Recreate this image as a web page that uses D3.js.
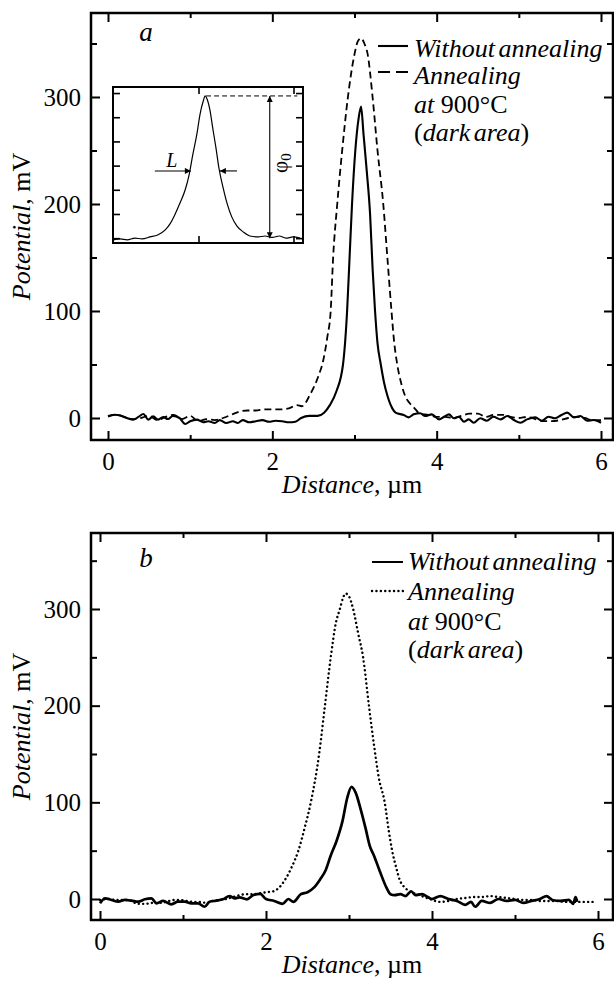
<!DOCTYPE html>
<html>
<head>
<meta charset="utf-8">
<script src="https://cdn.jsdelivr.net/npm/d3@7"></script>
<style>
  body { margin: 0; background: #fff; }
  svg { display: block; }
  svg text { font-family: 'Liberation Serif', 'DejaVu Serif', serif; }
</style>
</head>
<body>
<div id="chart"></div>
<script>
// ---- data ----
const xTicksMajor = [0, 2, 4, 6];
const xTicksMinor = [1, 3, 5];
const yTicksMajor = [0, 100, 200, 300];
const yTicksMinor = [50, 150, 250, 350];

// panel a: [distance um, potential mV]
const aSolid = [[0,1.5],[0.08,3],[0.16,2],[0.23,0],[0.31,-1.5],[0.37,1],[0.43,3.7],[0.49,-1.5],[0.55,1.5],[0.61,-1.5],[0.67,1],[0.73,-1],[0.79,2],[0.87,0],[0.94,-5.6],[1.0,-3],[1.08,-1.5],[1.16,-4],[1.22,-3],[1.3,-4.7],[1.36,-2],[1.44,-4.7],[1.52,-3],[1.58,-4.7],[1.64,-2],[1.72,-4],[1.8,-3],[1.88,-2],[1.96,-3.5],[2.04,-2.5],[2.12,-3],[2.2,-4],[2.28,-3.5],[2.35,0],[2.45,2],[2.55,2],[2.63,5],[2.7,12],[2.78,25],[2.86,50],[2.91,100],[2.94,150],[2.97,200],[3.01,250],[3.05,280],[3.08,291],[3.11,265],[3.15,230],[3.19,190],[3.22,140],[3.25,100],[3.28,70],[3.32,50],[3.36,33],[3.4,21],[3.46,9],[3.5,5],[3.6,2.8],[3.66,0.6],[3.72,3.4],[3.8,4.4],[3.86,1.9],[3.94,3.4],[4.03,-1.3],[4.09,1.2],[4.15,3.4],[4.21,-0.3],[4.27,1.2],[4.33,-3.4],[4.39,-1.3],[4.45,-4.4],[4.53,-0.3],[4.61,-2.5],[4.69,1.2],[4.78,-1.3],[4.86,1.9],[4.94,-1.9],[5.02,-4.4],[5.1,-1.3],[5.2,0.6],[5.28,-2.5],[5.36,1.2],[5.44,-0.3],[5.52,2.8],[5.59,5],[5.67,0.6],[5.75,1.9],[5.83,-2.5],[5.91,-1.9],[6.0,-4.4]];
const aDashed = [[0,2],[0.1,3],[0.2,1],[0.3,-1],[0.4,0],[0.5,2],[0.6,-2],[0.7,1],[0.8,3],[0.9,-1],[1.0,2],[1.1,-3],[1.2,-1],[1.3,-2],[1.4,0],[1.5,3],[1.6,6],[1.7,7],[1.8,7],[1.9,8],[2.0,8],[2.1,8],[2.2,9],[2.3,12],[2.36,11],[2.46,22],[2.56,39],[2.62,54],[2.67,76],[2.71,100],[2.74,150],[2.79,200],[2.85,250],[2.92,300],[3.0,340],[3.04,352],[3.08,355],[3.12,350],[3.16,340],[3.22,300],[3.28,250],[3.35,200],[3.4,150],[3.45,100],[3.48,73],[3.52,50],[3.57,32],[3.62,20],[3.67,14],[3.72,10],[3.8,4],[3.9,3],[4.0,1],[4.1,1],[4.2,0],[4.3,2],[4.4,4],[4.5,4],[4.6,1],[4.7,3],[4.8,3],[4.9,1],[5.0,0],[5.1,1],[5.2,-1],[5.3,-3],[5.4,-3],[5.5,-2],[5.6,0],[5.7,1],[5.8,0],[5.9,-2],[6.0,-2]];

// panel b
const bSolid = [[0,-4.5],[0.06,0.7],[0.14,-1],[0.22,-2.8],[0.3,-1],[0.38,-1.7],[0.46,-2.8],[0.54,-0.3],[0.62,0.7],[0.68,-4.5],[0.76,-2],[0.86,-5.5],[0.94,-2.8],[1.02,-2.8],[1.1,-4.5],[1.18,-4.5],[1.26,-8],[1.32,-2.8],[1.4,-1.7],[1.48,-0.3],[1.56,3.1],[1.62,0.7],[1.68,1.7],[1.77,-0.3],[1.85,4.1],[1.93,5.2],[2.0,0],[2.1,-2],[2.2,-5],[2.27,0],[2.33,-3],[2.42,5],[2.5,7],[2.58,12],[2.65,20],[2.72,30],[2.78,45],[2.85,60],[2.92,80],[2.98,105],[3.03,116],[3.08,110],[3.14,93],[3.2,73],[3.25,55],[3.3,45],[3.37,29],[3.45,12],[3.5,5],[3.55,4],[3.62,5],[3.68,3],[3.75,8],[3.8,4],[3.88,5],[3.95,2],[4.0,0],[4.1,3],[4.2,0],[4.3,-2],[4.4,-6],[4.47,-3],[4.52,-8],[4.6,-2],[4.7,-4],[4.8,0],[4.9,-2],[5.0,-1],[5.1,-4],[5.2,-2],[5.3,0],[5.38,3],[5.45,-1],[5.55,-2],[5.65,-1],[5.7,-5],[5.73,2],[5.75,-3]];
const bDotted = [[0,-1],[0.1,0],[0.2,-1],[0.3,-1],[0.38,-2],[0.45,-5],[0.55,-5],[0.64,-4],[0.72,-4],[0.8,-3],[0.88,-1],[0.96,-1],[1.04,-2],[1.12,-3],[1.2,-3],[1.28,-4],[1.36,-2],[1.44,-1],[1.52,0],[1.6,2],[1.68,4],[1.77,5],[1.85,5],[1.93,6],[2.0,7],[2.09,8],[2.16,12],[2.23,20],[2.31,33],[2.39,50],[2.47,75],[2.54,100],[2.64,150],[2.71,200],[2.78,250],[2.84,285],[2.89,300],[2.93,312],[2.96,316],[3.0,313],[3.05,300],[3.11,275],[3.17,250],[3.24,200],[3.3,160],[3.36,125],[3.43,100],[3.48,70],[3.52,50],[3.57,32],[3.61,20],[3.67,12],[3.73,8],[3.85,4],[3.97,0],[4.1,-3],[4.2,-2],[4.3,0],[4.4,1],[4.5,2],[4.6,2],[4.7,3],[4.8,2],[4.9,1],[5.0,0],[5.1,-1],[5.2,-1],[5.3,-2],[5.4,-2],[5.5,-2],[5.6,-3],[5.7,-3],[5.8,-3],[5.9,-3],[5.96,-3]];

// inset (arbitrary units)
const insetCurve = [[0,-0.07],[0.74,-0.03],[1.5,-0.07],[2.3,0],[3.05,-0.03],[3.9,0.05],[4.7,0.13],[5.5,0.34],[6.0,0.59],[6.5,0.96],[7.05,1.45],[7.6,2.0],[8.0,2.6],[8.4,3.45],[8.85,4.35],[9.15,5.1],[9.5,5.67],[9.7,5.88],[9.9,5.75],[10.2,5.3],[10.5,4.55],[10.85,3.7],[11.15,2.9],[11.6,2.07],[12.0,1.45],[12.5,0.88],[13.05,0.5],[13.7,0.26],[14.4,0.09],[15.3,0.05],[16.0,0.09],[16.75,0.03],[17.5,0.09],[18.2,0],[18.95,0.05],[19.7,0]];
const insetXTicks = [9, 19];
const insetYTicks = [0, 1, 2, 3, 4, 5, 6];
const insetPeak = 5.88, insetHalf = 2.78;

// ---- drawing ----
const FONT = 'Liberation Serif, DejaVu Serif, serif';
const FS = 25;

const svg = d3.select('#chart').append('svg')
    .attr('width', 614).attr('height', 990);
svg.append('rect').attr('width', 614).attr('height', 990).attr('fill', '#fff');

const defs = svg.append('defs');
defs.append('marker')
    .attr('id', 'arrow')
    .attr('viewBox', '0 0 10 10')
    .attr('refX', 10).attr('refY', 5)
    .attr('markerWidth', 7).attr('markerHeight', 6)
    .attr('markerUnits', 'userSpaceOnUse')
    .attr('orient', 'auto-start-reverse')
    .append('path').attr('d', 'M0,0L10,5L0,10z').attr('fill', '#000');

function styleAxis(sel) {
    sel.attr('font-family', FONT).attr('font-size', FS);
    sel.select('.domain').remove();
    sel.selectAll('.tick line').attr('stroke', '#000').attr('stroke-width', 2);
    sel.selectAll('.tick text').attr('fill', '#000');
}

function drawPanel(p) {
    const f = p.frame;
    const x = d3.scaleLinear().domain([0, 6]).range(p.xRange);
    const y = d3.scaleLinear().domain([0, 300]).range(p.yRange);
    const g = svg.append('g').attr('font-family', FONT);

    defs.append('clipPath').attr('id', 'clip-' + p.letter)
        .append('rect')
        .attr('x', f.x0).attr('y', f.y0)
        .attr('width', f.x1 - f.x0).attr('height', f.y1 - f.y0);

    const axes = [
        [d3.axisBottom(x).tickValues(xTicksMajor).tickSize(-9).tickPadding(12).tickFormat(d3.format('d')), 0, f.y1],
        [d3.axisBottom(x).tickValues(xTicksMinor).tickSize(-5).tickFormat(''), 0, f.y1],
        [d3.axisTop(x).tickValues(xTicksMajor).tickSize(-9).tickFormat(''), 0, f.y0],
        [d3.axisTop(x).tickValues(xTicksMinor).tickSize(-5).tickFormat(''), 0, f.y0],
        [d3.axisLeft(y).tickValues(yTicksMajor).tickSize(-9).tickPadding(10).tickFormat(d3.format('d')), f.x0, 0],
        [d3.axisLeft(y).tickValues(yTicksMinor).tickSize(-6).tickFormat(''), f.x0, 0],
        [d3.axisRight(y).tickValues(yTicksMajor).tickSize(-9).tickFormat(''), f.x1, 0],
        [d3.axisRight(y).tickValues(yTicksMinor).tickSize(-6).tickFormat(''), f.x1, 0]
    ];
    axes.forEach(([ax, tx, ty]) => {
        g.append('g').attr('transform', `translate(${tx},${ty})`).call(ax).call(styleAxis);
    });

    const line = d3.line()
        .x(d => x(d[0]))
        .y(d => y(d[1]))
        .curve(d3.curveMonotoneX);

    const curves = g.append('g').attr('clip-path', `url(#clip-${p.letter})`);
    p.series.forEach(s => {
        curves.append('path')
            .datum(s.data)
            .attr('fill', 'none')
            .attr('stroke', '#000')
            .attr('stroke-width', s.width)
            .attr('stroke-dasharray', s.dash)
            .attr('stroke-linecap', s.cap || 'butt')
            .attr('stroke-linejoin', 'round')
            .attr('d', line);
    });

    g.append('rect')
        .attr('x', f.x0).attr('y', f.y0)
        .attr('width', f.x1 - f.x0).attr('height', f.y1 - f.y0)
        .attr('fill', 'none').attr('stroke', '#000').attr('stroke-width', 2.5);

    // panel letter
    g.append('text')
        .attr('x', 146).attr('y', f.y0 + p.letterDy)
        .attr('text-anchor', 'middle')
        .attr('font-size', FS + 2).attr('font-style', 'italic')
        .text(p.letter);

    // axis titles
    const yt = g.append('text')
        .attr('transform', `translate(30,${(f.y0 + f.y1) / 2}) rotate(-90)`)
        .attr('text-anchor', 'middle').attr('font-size', FS + 1);
    yt.append('tspan').attr('font-style', 'italic').text('Potential');
    yt.append('tspan').text(', mV');

    const xt = g.append('text')
        .attr('x', (f.x0 + f.x1) / 2).attr('y', f.y1 + 53)
        .attr('text-anchor', 'middle').attr('font-size', FS + 1);
    xt.append('tspan').attr('font-style', 'italic').text('Distance');
    xt.append('tspan').text(', µm');

    // legend
    const L = p.legend;
    p.series.forEach((s, i) => {
        g.append('line')
            .attr('x1', L.x0).attr('x2', L.x1)
            .attr('y1', L.sampleY[i]).attr('y2', L.sampleY[i])
            .attr('stroke', '#000').attr('stroke-width', s.legendWidth || s.width)
            .attr('stroke-dasharray', s.legendDash || s.dash)
            .attr('stroke-linecap', s.cap || 'butt');
    });
    const lg = g.append('g').attr('font-size', FS + 1);
    const rows = [
        [['Without annealing', true]],
        [['Annealing', true]],
        [['at', true], [' 900°C', false]],
        [['(', false], ['dark area', true], [')', false]]
    ];
    rows.forEach((r, i) => {
        const t = lg.append('text').attr('x', L.textX).attr('y', L.baselines[i]);
        if (i === 0 || i === 3) t.attr('word-spacing', -3);
        r.forEach(([str, it]) => t.append('tspan').attr('font-style', it ? 'italic' : 'normal').text(str));
    });

    return { x, y };
}

drawPanel({
    letter: 'a',
    frame: { x0: 91, x1: 613, y0: 13, y1: 440 },
    xRange: [108, 601],
    yRange: [418, 97],
    letterDy: 28,
    series: [
        { data: aDashed, width: 1.8, dash: '7,4', legendDash: '12,6' },
        { data: aSolid, width: 2.1, dash: null }
    ],
    legend: { x0: 378, x1: 408, sampleY: [72, 46], textX: 414, baselines: [57, 84, 113, 141] }
});

drawPanel({
    letter: 'b',
    frame: { x0: 91, x1: 613, y0: 533, y1: 920 },
    xRange: [100, 598],
    yRange: [899, 609],
    letterDy: 34,
    series: [
        { data: bDotted, width: 2.4, dash: '0.1,4.3', cap: 'round' },
        { data: bSolid, width: 2.7, dash: null, legendWidth: 2 }
    ],
    legend: { x0: 372, x1: 403, sampleY: [591, 562], textX: 408, baselines: [570, 600, 630, 658] }
});

// ---- inset in panel a ----
const ix = d3.scaleLinear().domain([0, 20]).range([113, 303]);
const iy = d3.scaleLinear().domain([-0.2, 6.25]).range([243, 87]);
const ins = svg.append('g').attr('font-family', FONT);

ins.append('rect')
    .attr('x', 113).attr('y', 87).attr('width', 190).attr('height', 156)
    .attr('fill', '#fff');

[
    [d3.axisLeft(iy).tickValues(insetYTicks).tickSize(-7), 113, 0],
    [d3.axisRight(iy).tickValues(insetYTicks).tickSize(-7), 303, 0],
    [d3.axisBottom(ix).tickValues(insetXTicks).tickSize(-7), 0, 243],
    [d3.axisTop(ix).tickValues(insetXTicks).tickSize(-7), 0, 87]
].forEach(([ax, tx, ty]) => {
    ins.append('g').attr('transform', `translate(${tx},${ty})`)
        .call(ax.tickFormat(''))
        .call(sel => {
            sel.select('.domain').remove();
            sel.selectAll('.tick line').attr('stroke', '#000').attr('stroke-width', 1.6);
        });
});

ins.append('path')
    .datum(insetCurve)
    .attr('fill', 'none').attr('stroke', '#000').attr('stroke-width', 1.2)
    .attr('d', d3.line().x(d => ix(d[0])).y(d => iy(d[1])).curve(d3.curveMonotoneX));

// peak level and amplitude arrow
ins.append('line')
    .attr('x1', ix(9.8)).attr('x2', ix(19.4))
    .attr('y1', iy(insetPeak)).attr('y2', iy(insetPeak))
    .attr('stroke', '#000').attr('stroke-width', 1).attr('stroke-dasharray', '5,3');
ins.append('line')
    .attr('x1', ix(16.5)).attr('x2', ix(16.5))
    .attr('y1', iy(insetPeak)).attr('y2', iy(0))
    .attr('stroke', '#000').attr('stroke-width', 1.1)
    .attr('marker-start', 'url(#arrow)').attr('marker-end', 'url(#arrow)');

// width arrows
ins.append('line')
    .attr('x1', ix(4.4)).attr('x2', ix(8.2))
    .attr('y1', iy(insetHalf)).attr('y2', iy(insetHalf))
    .attr('stroke', '#000').attr('stroke-width', 1.1).attr('marker-end', 'url(#arrow)');
ins.append('line')
    .attr('x1', ix(13.05)).attr('x2', ix(11.25))
    .attr('y1', iy(insetHalf)).attr('y2', iy(insetHalf))
    .attr('stroke', '#000').attr('stroke-width', 1.1).attr('marker-end', 'url(#arrow)');

ins.append('text')
    .attr('x', ix(6.2)).attr('y', iy(insetHalf) - 4)
    .attr('text-anchor', 'middle').attr('font-size', 20).attr('font-style', 'italic')
    .text('L');

const phi = ins.append('text')
    .attr('transform', `translate(${ix(18.3)},${iy(3.1)}) rotate(-90)`)
    .attr('text-anchor', 'middle').attr('font-size', 21);
phi.append('tspan').text('φ');
phi.append('tspan').attr('font-size', 15).attr('dy', 4).text('0');

ins.append('rect')
    .attr('x', 113).attr('y', 87).attr('width', 190).attr('height', 156)
    .attr('fill', 'none').attr('stroke', '#000').attr('stroke-width', 2);
</script>
</body>
</html>
